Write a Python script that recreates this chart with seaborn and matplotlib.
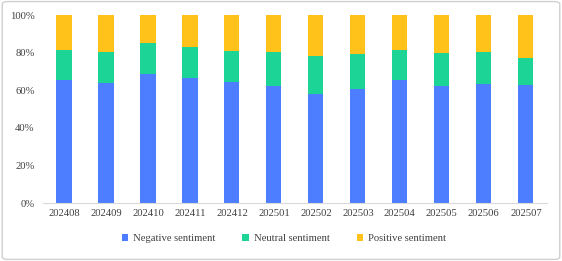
import matplotlib
matplotlib.use("Agg")
import matplotlib.pyplot as plt
import seaborn as sns
import pandas as pd
import numpy as np
from matplotlib.patches import FancyBboxPatch, Patch
from matplotlib.ticker import PercentFormatter

months = ["202408", "202409", "202410", "202411", "202412", "202501",
          "202502", "202503", "202504", "202505", "202506", "202507"]
negative = [65.5, 63.9, 68.5, 66.4, 64.2, 62.5, 58.2, 60.7, 65.3, 62.1, 63.5, 63.0]
neutral = [15.9, 16.3, 16.6, 16.8, 16.7, 18.0, 20.2, 18.8, 15.9, 17.7, 16.7, 14.3]
positive = [18.6, 19.8, 14.9, 16.8, 19.1, 19.5, 21.6, 20.5, 18.8, 20.2, 19.8, 22.7]
series_names = ["Negative sentiment", "Neutral sentiment", "Positive sentiment"]
colors = ["#4d7eff", "#1bd496", "#ffc21a"]

sns.set_theme(style="white")
plt.rcParams["font.family"] = ["Liberation Serif", "DejaVu Serif"]

fig = plt.figure(figsize=(5.62, 2.61), dpi=100)
ax = fig.add_axes([0.0765, 0.222, 0.8965, 0.7205])

df = pd.DataFrame({"month": months, "neg": np.array(negative) / 100,
                   "neu": np.array(neutral) / 100, "pos": np.array(positive) / 100})
bottom = np.zeros(len(months))
for col, name, c in zip(["neg", "neu", "pos"], series_names, colors):
    sns.barplot(data=df, x="month", y=col, bottom=bottom, color=c, width=0.36,
                ax=ax, saturation=1, linewidth=0)
    bottom = bottom + df[col].values

ax.set_ylim(0, 1)
ax.set_xlim(-0.5, len(months) - 0.5)
ax.yaxis.set_major_locator(matplotlib.ticker.MultipleLocator(0.2))
ax.yaxis.set_major_formatter(PercentFormatter(1.0, decimals=0))
ax.set_xlabel("")
ax.set_ylabel("")
for s in ["top", "right", "left"]:
    ax.spines[s].set_visible(False)
ax.spines["bottom"].set_color("#d9d9d9")
ax.spines["bottom"].set_linewidth(0.8)
ax.tick_params(axis="both", length=0, labelsize=7.7, colors="#404040", pad=4)
ax.tick_params(axis="y", pad=6)

handles = [Patch(facecolor=c, edgecolor="none") for c in colors]
fig.legend(handles, series_names, loc="center", bbox_to_anchor=(0.505, 0.085), ncol=3,
           frameon=False, fontsize=7.7, handlelength=0.6, handleheight=0.6,
           handletextpad=0.45, columnspacing=2.55, labelcolor="#404040")

border = FancyBboxPatch((0.004, 0.006), 0.992, 0.988, boxstyle="round,pad=0,rounding_size=0.01",
                        transform=fig.transFigure, facecolor="none", edgecolor="#d0d0d0",
                        linewidth=1.0)
fig.patches.append(border)

fig.savefig("out.png", dpi=100)
